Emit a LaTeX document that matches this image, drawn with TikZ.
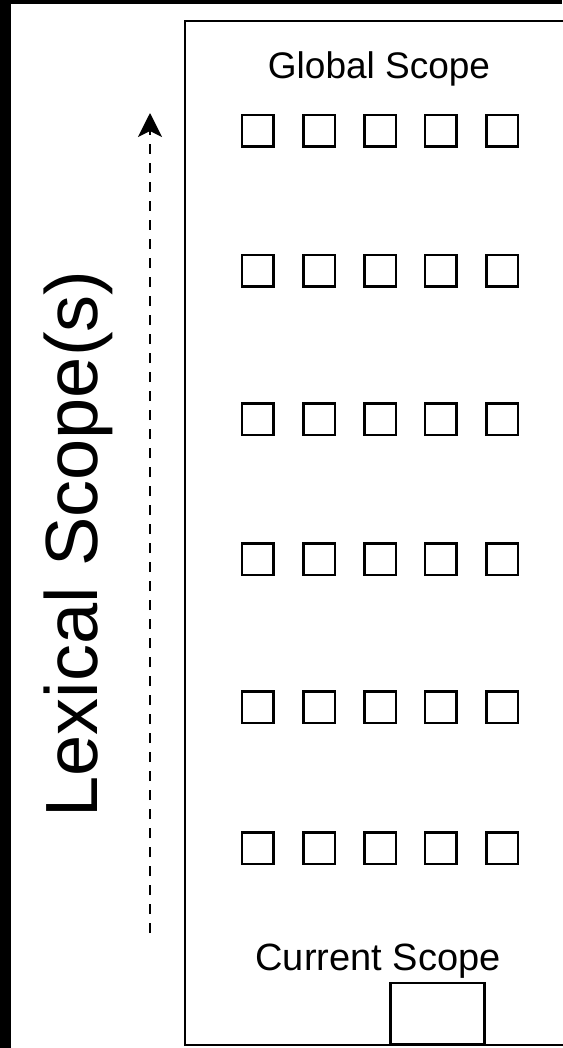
\documentclass[tikz,border=0pt]{standalone}
\usepackage{fontspec}
\setmainfont{Liberation Sans}
\usetikzlibrary{arrows.meta}
\tikzset{
  sq/.style={draw, line width=2.5pt, minimum size=31.5pt, inner sep=0pt},
  frame/.style={draw, line width=2.6pt, inner sep=0pt},
  lbl/.style={inner sep=0pt, anchor=base},
  uparrow/.style={line width=2.5pt, dash pattern=on 10pt off 9pt,
    -{Stealth[length=24pt,width=24pt,inset=6pt]}}
}
\begin{document}
\begin{tikzpicture}[x=1pt,y=-1pt]
\useasboundingbox (0,0) rectangle (562,1048);
\fill[black] (0,0) rectangle (562,1048);
\fill[white] (11,4) rectangle (562,1048);
% outer scope panel (extends past right edge)
\node[frame, minimum width=390pt, minimum height=1024pt] (outer) at (380,533) {};
% labels
\node[lbl, font=\fontsize{37}{44}\selectfont] (global) at (379,79) {Global Scope};
\node[lbl, font=\fontsize{38}{46}\selectfont] (current) at (378,970) {Current Scope};
\node[lbl, rotate=90, font=\fontsize{74}{88}\selectfont] (lexical) at (97,544) {Lexical Scope(s)};
% rows of squares
\foreach \r/\y in {1/131,2/271,3/419,4/559,5/707,6/848}{
  \foreach \c/\x in {1/257.5,2/319,3/380,4/440.5,5/502}{
    \node[sq] (s-\r-\c) at (\x,\y) {};
  }
}
% current scope box
\node[frame, minimum width=94.5pt, minimum height=61pt] (curbox) at (437.5,1013.5) {};
% dashed arrow
\coordinate (abot) at (150,933);
\coordinate (atop) at (150,113);
\draw[uparrow] (abot) -- (atop);
\end{tikzpicture}
\end{document}
